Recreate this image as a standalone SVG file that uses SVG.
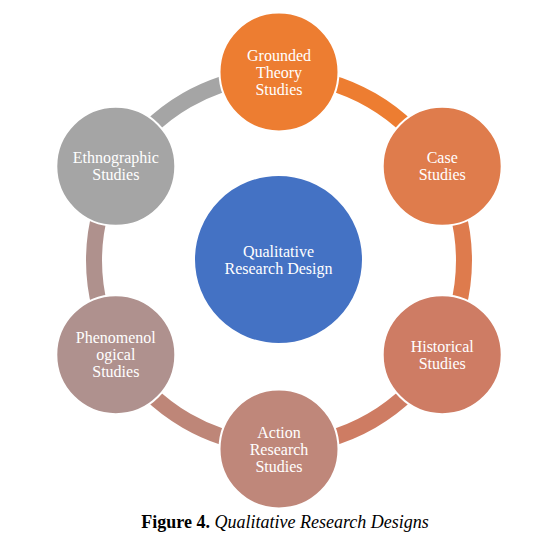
<svg xmlns="http://www.w3.org/2000/svg" width="540" height="539" viewBox="0 0 540 539">
<style>
.ring{fill:none;stroke-width:16}
.node{stroke:#fff;stroke-width:2}
.lbl{font-family:"Liberation Serif","Times New Roman",serif;font-size:16px;fill:#fff;text-anchor:middle}
.cap{font-family:"Liberation Serif","Times New Roman",serif;font-size:18px;fill:#000;text-anchor:middle}
</style>
<rect width="540" height="539" fill="#fff"/>
<g id="connectors">
<path class="ring" stroke="#ED7D31" d="M279,75.5 A185,185 0 0 1 439.2,168"/>
<path class="ring" stroke="#DE7B4D" d="M439.2,168 A185,185 0 0 1 439.2,353"/>
<path class="ring" stroke="#CE7C63" d="M439.2,353 A185,185 0 0 1 279,445.5"/>
<path class="ring" stroke="#BE8678" d="M279,445.5 A185,185 0 0 1 118.8,353"/>
<path class="ring" stroke="#AF918D" d="M118.8,353 A185,185 0 0 1 118.8,168"/>
<path class="ring" stroke="#A5A5A5" d="M118.8,168 A185,185 0 0 1 279,75.5"/>
</g>
<g id="center">
<circle class="node" cx="278.5" cy="259.5" r="84.5" fill="#4472C4"/>
<text class="lbl" x="278.5" y="257">Qualitative</text>
<text class="lbl" x="278.5" y="274">Research Design</text>
</g>
<g id="grounded">
<circle class="node" cx="279" cy="72" r="59.5" fill="#ED7D31"/>
<text class="lbl" x="279" y="60.5">Grounded</text>
<text class="lbl" x="279" y="77.5">Theory</text>
<text class="lbl" x="279" y="94.5">Studies</text>
</g>
<g id="case">
<circle class="node" cx="442.2" cy="166.3" r="59.5" fill="#DF7C4C"/>
<text class="lbl" x="442.2" y="163.3">Case</text>
<text class="lbl" x="442.2" y="180.3">Studies</text>
</g>
<g id="historical">
<circle class="node" cx="442.2" cy="354.7" r="59.5" fill="#CE7C64"/>
<text class="lbl" x="442.2" y="351.7">Historical</text>
<text class="lbl" x="442.2" y="368.7">Studies</text>
</g>
<g id="action">
<circle class="node" cx="279" cy="449" r="59.5" fill="#BF877A"/>
<text class="lbl" x="279" y="437.5">Action</text>
<text class="lbl" x="279" y="454.5">Research</text>
<text class="lbl" x="279" y="471.5">Studies</text>
</g>
<g id="phenomenological">
<circle class="node" cx="115.8" cy="354.7" r="59.5" fill="#AF918E"/>
<text class="lbl" x="115.8" y="343.2">Phenomenol</text>
<text class="lbl" x="115.8" y="360.2">ogical</text>
<text class="lbl" x="115.8" y="377.2">Studies</text>
</g>
<g id="ethnographic">
<circle class="node" cx="115.8" cy="166.3" r="59.5" fill="#A5A5A5"/>
<text class="lbl" x="115.8" y="163.3">Ethnographic</text>
<text class="lbl" x="115.8" y="180.3">Studies</text>
</g>
<text class="cap" x="285" y="528"><tspan font-weight="bold">Figure 4.</tspan> <tspan font-style="italic">Qualitative Research Designs</tspan></text>
</svg>
